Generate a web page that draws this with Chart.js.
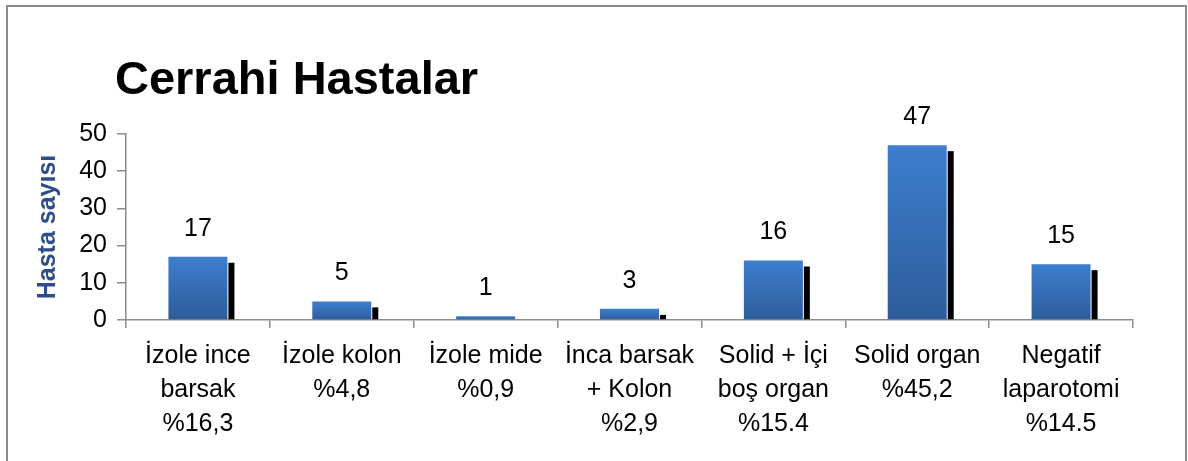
<!DOCTYPE html>
<html>
<head>
<meta charset="utf-8">
<script src="https://cdn.jsdelivr.net/npm/chart.js@4/dist/chart.umd.min.js"></script>
<style>
  html, body { margin: 0; padding: 0; background: #fff; }
  #wrap { position: relative; width: 1188px; height: 461px; }
  #frame { position: absolute; left: 6px; top: 5px; width: 1177px; height: 470px;
           border: 2px solid #8c8c8c; border-bottom: none; }
  canvas { position: absolute; left: 0; top: 0; }
</style>
</head>
<body>
<div id="wrap">
  <div id="frame"></div>
  <canvas id="chart" width="1188" height="461"></canvas>
</div>
<script>
const chartTitle = 'Cerrahi Hastalar';
const yTitle = 'Hasta sayısı';
const categories = [
  ['İzole ince', 'barsak', '%16,3'],
  ['İzole kolon', '%4,8'],
  ['İzole mide', '%0,9'],
  ['İnca barsak', '+ Kolon', '%2,9'],
  ['Solid + İçi', 'boş organ', '%15.4'],
  ['Solid organ', '%45,2'],
  ['Negatif', 'laparotomi', '%14.5']
];
const patients = [17, 5, 1, 3, 16, 47, 15];
const yTicks = [0, 10, 20, 30, 40, 50];

const FONT = "'Liberation Sans', Arial, Helvetica, sans-serif";

function barGradient(ctx) {
  const chart = ctx.chart;
  const y = chart.scales && chart.scales.y;
  if (!chart.chartArea || !y) return '#3a77c4';
  const top = y.getPixelForValue(ctx.raw);
  const bottom = y.getPixelForValue(0);
  const g = chart.ctx.createLinearGradient(0, top, 0, bottom);
  g.addColorStop(0, '#3d7ecf');
  g.addColorStop(1, '#2e5c9a');
  return g;
}

// title drawn at its place in the frame
const titlePlugin = {
  id: 'titleText',
  afterDraw(chart) {
    const c = chart.ctx;
    c.save();
    c.font = 'bold 47px ' + FONT;
    c.fillStyle = '#000';
    c.textBaseline = 'alphabetic';
    c.textAlign = 'left';
    c.fillText(chartTitle, 115, 94);
    c.restore();
  }
};

// black shadow to the right of each bar, and the value above it
const barExtras = {
  id: 'barExtras',
  beforeDatasetsDraw(chart) {
    const c = chart.ctx;
    c.save();
    c.fillStyle = '#000';
    chart.getDatasetMeta(0).data.forEach(el => {
      const right = el.x + el.width / 2;
      const h = el.base - el.y - 6;
      if (h > 0) c.fillRect(right + 1, el.y + 6, 6, h);
    });
    c.restore();
  },
  afterDatasetsDraw(chart) {
    const c = chart.ctx;
    c.save();
    c.font = '25px ' + FONT;
    c.fillStyle = '#000';
    c.textAlign = 'center';
    c.textBaseline = 'middle';
    chart.getDatasetMeta(0).data.forEach((el, i) => {
      c.fillText(String(patients[i]), el.x, el.y - 28);
    });
    c.restore();
  }
};

new Chart(document.getElementById('chart'), {
  type: 'bar',
  data: {
    labels: categories,
    datasets: [{
      data: patients,
      backgroundColor: barGradient,
      borderWidth: 0,
      categoryPercentage: 1,
      barPercentage: 0.41
    }]
  },
  plugins: [titlePlugin, barExtras],
  options: {
    responsive: false,
    animation: false,
    layout: { padding: { left: 30, right: 55, top: 134, bottom: 0 } },
    plugins: {
      legend: { display: false },
      tooltip: { enabled: false }
    },
    scales: {
      x: {
        offset: true,
        grid: { offset: true, drawOnChartArea: false, color: '#8c8c8c', tickLength: 8, lineWidth: 1.5 },
        border: { color: '#8c8c8c', width: 1.5 },
        ticks: {
          color: '#000',
          padding: 11,
          maxRotation: 0,
          autoSkip: false,
          font: { family: FONT, size: 25, lineHeight: 34 / 25 }
        },
        afterFit(scale) { scale.height = 141; }
      },
      y: {
        min: 0,
        max: 50,
        afterBuildTicks(scale) { scale.ticks = yTicks.map(v => ({ value: v })); },
        grid: { drawOnChartArea: false, color: '#8c8c8c', tickLength: 9, lineWidth: 1.5 },
        border: { color: '#8c8c8c', width: 1.5 },
        ticks: {
          color: '#000',
          padding: 10,
          font: { family: FONT, size: 25 }
        },
        title: {
          display: true,
          text: yTitle,
          color: '#2d4e8a',
          padding: { top: 3, bottom: 0 },
          font: { family: FONT, size: 25, weight: 'bold' }
        },
        afterFit(scale) { scale.width = 96; }
      }
    }
  }
});
</script>
</body>
</html>
